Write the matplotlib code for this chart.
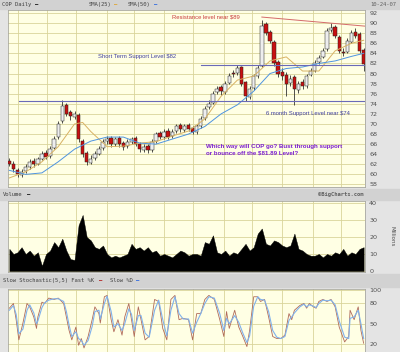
#COP daily chart - price, volume and slow stochastic
import numpy as np
import pandas as pd
import matplotlib
matplotlib.use("Agg")
import matplotlib.pyplot as plt
from matplotlib.patches import Rectangle

#Candles, one every 3 trading days (2006-10-24 .. 2007-10-24)
opens  = [62.6, 62.1, 60.8, 59.8, 60.7, 61.4, 62.7, 62.1, 63.1, 64.3,
          63.6, 65.3, 67.4, 70.6, 73.8, 72.4, 71.3, 71.8, 66.6, 64.3,
          62.3, 63.2, 64.1, 65.2, 66.6, 67.2, 66.1, 67.3, 66.2, 65.6,
          66.4, 67.2, 66.1, 64.9, 65.7, 64.9, 66.6, 68.2, 67.4, 68.7,
          67.6, 68.6, 69.8, 68.8, 69.8, 69.2, 68.4, 69.6, 71.2, 73.4,
          74.2, 76.4, 77.3, 76.4, 78.2, 80.2, 80.2, 81.2, 78.3, 75.3,
          77.2, 79.6, 81.5, 89.8, 88.3, 86.2, 82.3, 80.4, 79.7, 78.2,
          79.3, 76.8, 78.3, 77.6, 79.8, 80.6, 82.2, 83.2, 84.8, 88.7,
          89.2, 87.3, 84.2, 84.2, 86.2, 88.3, 87.8, 84.7]
closes = [62, 61, 60, 60.5, 61.5, 62.5, 62, 63, 64, 63.5,
          65, 67, 70, 73.5, 72, 71.5, 72, 67, 64, 62.5,
          63, 64, 65, 66.5, 67, 66, 67, 66, 65.5, 66.5,
          67, 66, 65, 65.5, 64.8, 66.5, 68, 67.5, 68.5, 67.5,
          68.5, 69.5, 69, 69.5, 69, 68.5, 69.5, 71, 73, 74,
          76, 77, 76.5, 78, 79.5, 80, 81, 78, 75.5, 77,
          79.5, 81, 89.5, 88, 86.5, 82, 80, 79.5, 78, 79,
          77, 78, 77.5, 79.5, 80.5, 82, 83, 84.5, 88.5, 89,
          87.5, 84.5, 84, 86.5, 88, 87.5, 84.5, 81.89]
highs  = [63.2, 62.6, 61.2, 61.0, 62.0, 63.0, 63.2, 63.5, 64.6, 64.8,
          65.6, 67.6, 70.6, 74.7, 74.2, 72.8, 72.6, 72.2, 67.0, 64.6,
          63.8, 64.6, 65.6, 67.0, 67.6, 67.6, 67.4, 67.6, 66.6, 67.0,
          67.5, 67.6, 66.5, 66.0, 66.0, 67.0, 68.5, 68.6, 69.0, 69.2,
          69.0, 70.0, 70.2, 70.0, 70.2, 69.6, 70.0, 71.6, 73.6, 74.8,
          76.6, 77.6, 77.8, 78.6, 80.2, 80.8, 81.6, 81.5, 78.6, 77.6,
          80.0, 81.6, 90.6, 90.3, 88.6, 86.6, 82.6, 81.0, 80.3, 79.8,
          79.8, 78.6, 79.0, 80.0, 81.0, 82.6, 83.6, 85.0, 89.0, 90.0,
          89.6, 87.6, 85.0, 87.0, 88.6, 89.0, 88.2, 85.0]
lows   = [61.6, 60.5, 59.5, 59.5, 60.3, 61.0, 61.5, 61.8, 62.8, 63.0,
          63.2, 65.0, 67.0, 70.2, 71.5, 70.8, 70.9, 66.5, 63.5, 61.8,
          62.0, 62.8, 63.8, 64.8, 66.0, 65.5, 65.6, 65.5, 64.8, 65.2,
          66.0, 65.6, 64.4, 64.4, 64.2, 64.5, 66.2, 67.0, 67.0, 67.0,
          67.2, 68.2, 68.5, 68.4, 68.6, 68.0, 68.0, 69.2, 70.8, 73.0,
          74.0, 76.0, 75.8, 76.0, 78.0, 79.4, 79.8, 77.5, 74.6, 75.0,
          76.8, 79.2, 81.2, 87.6, 86.0, 81.5, 79.3, 78.8, 75.6, 77.6,
          73.8, 76.2, 77.0, 77.2, 79.5, 80.3, 81.8, 83.0, 84.5, 88.2,
          87.0, 84.0, 83.4, 84.0, 86.0, 87.0, 84.0, 80.6]
volume = [13, 10, 11, 14, 10, 12, 9, 11, 3, 10,
          12, 17, 14, 19, 12, 7, 6.5, 27, 33, 20,
          18, 14, 13, 15, 10, 8, 9, 8, 9, 10,
          16, 13, 14, 12, 14, 11, 12, 9, 10, 9,
          8, 10, 12, 11, 9, 10, 10, 9, 17, 16,
          21, 11, 10, 12, 9, 11, 10, 13, 16, 12,
          14, 22, 25, 16, 15, 18, 17, 15, 14, 15,
          22, 13, 12, 10, 9, 9, 10, 8, 10, 9,
          11, 10, 13, 9, 11, 10, 13, 14]

#Moving averages, read every 4th candle
sma_idx = [0, 4, 8, 12, 16, 18, 20, 24, 28, 32, 36, 40, 44, 48, 52, 56,
           60, 64, 68, 72, 76, 80, 84, 87]
sma25 = [59.3, 60.5, 62.5, 65.5, 70.0, 70.3, 68.5, 65.5, 65.6, 66.2, 66.5,
         67.6, 68.6, 71.0, 75.5, 78.7, 79.5, 82.5, 83.3, 80.5, 80.5, 84.5,
         86.0, 86.6]
sma50 = [60.8, 60.0, 60.3, 62.5, 65.0, 65.8, 66.6, 67.4, 67.4, 66.2, 66.0,
         67.0, 68.0, 69.5, 72.0, 73.8, 76.5, 80.0, 81.0, 81.3, 82.0, 82.5,
         83.4, 84.0]

#Slow stochastic (trading day index)
stoch_day = [0, 3, 5, 7, 10, 13, 15, 18, 20, 21, 24, 26, 29, 33, 36, 40, 42,
             44, 46, 49, 51, 53, 55, 58, 61, 63, 66, 67, 70, 72, 75, 77, 80,
             83, 85, 88, 90, 92, 95, 97, 100, 103, 107, 110, 113, 116, 119,
             122, 125, 128, 132, 135, 138, 141, 144, 147, 151, 155, 158, 160,
             162, 166, 169, 172, 175, 177, 180, 183, 185, 188, 191, 194, 197,
             200, 203, 206, 208, 210, 214, 217, 219, 221, 224, 226, 228, 231,
             234, 237, 240, 243, 247, 250, 251, 254, 257, 259, 261]
fast_k = [73, 80, 56, 26, 51, 80, 75, 60, 43, 60, 82, 80, 88, 86, 88, 80, 60,
          40, 26, 45, 18, 28, 14, 31, 56, 75, 65, 51, 90, 92, 56, 38, 56, 33,
          60, 80, 56, 31, 75, 56, 26, 31, 86, 83, 43, 26, 86, 92, 56, 58, 56,
          26, 65, 65, 86, 92, 86, 56, 31, 68, 43, 70, 45, 31, 16, 40, 90, 90,
          83, 86, 60, 31, 28, 28, 33, 65, 56, 70, 77, 80, 73, 80, 75, 73, 83,
          86, 83, 86, 75, 45, 23, 31, 70, 56, 75, 40, 21]
slow_d = [70, 77, 64, 35, 42, 70, 78, 66, 50, 54, 74, 81, 85, 87, 87, 83, 68,
          48, 31, 38, 28, 25, 18, 25, 46, 68, 70, 57, 80, 91, 68, 45, 50, 40,
          50, 72, 64, 40, 62, 62, 36, 30, 70, 85, 56, 32, 70, 90, 65, 57, 57,
          36, 52, 65, 80, 90, 88, 65, 40, 58, 50, 62, 52, 36, 22, 32, 76, 90,
          86, 85, 68, 40, 30, 28, 31, 55, 60, 66, 75, 79, 75, 78, 76, 74, 80,
          85, 84, 85, 78, 54, 30, 28, 58, 60, 70, 50, 28]

#Drawn levels
resist_day, resist_val = [186, 262], [91.2, 89.4]
short_support, short_start = 81.7, 141
long_support, long_start = 74.5, 7

days = pd.bdate_range("2006-10-24", "2007-10-24")
month_lines = [i for i in range(1, len(days)) if days[i].month != days[i-1].month]

W, H = 400, 352
BG = "#e4e4e4"
STRIP = "#d2d2d2"
PANEL = "#ffffe4"
GRID = "#d9d49a"
TXT = "#505050"

def box(px0, py0, px1, py1):
    return [px0 / W, 1 - py1 / H, (px1 - px0) / W, (py1 - py0) / H]

fig = plt.figure(figsize=(W / 100, H / 100), dpi=100, facecolor=BG)
for y0, y1 in [(0, 9), (189, 200), (274, 287)]:
    fig.add_artist(Rectangle((0, 1 - y1 / H), 1, (y1 - y0) / H,
                             transform=fig.transFigure, color=STRIP, zorder=0))

def style(ax, ticks, ylim):
    ax.set_facecolor(PANEL)
    ax.set_xlim(-1, len(days))
    ax.set_ylim(*ylim)
    ax.set_xticks(month_lines)
    ax.set_xticklabels([])
    ax.set_yticks(ticks)
    ax.yaxis.tick_right()
    ax.tick_params(axis="both", length=0, labelsize=4.6, labelcolor=TXT, pad=3)
    ax.grid(True, color=GRID, lw=0.6)
    ax.set_axisbelow(True)
    for s in ax.spines.values():
        s.set_color("#a8a8a0")
        s.set_linewidth(0.6)

#Main price panel
ax = fig.add_axes(box(8, 10, 365, 187))
style(ax, np.arange(58, 93, 2), (57.5, 92.6))
o, c = np.array(opens), np.array(closes)
idx = np.arange(len(c)) * 3
up = c >= o
ax.vlines(idx, lows, highs, color="#222222", lw=0.55, zorder=2)
ax.bar(idx, np.maximum(np.abs(c - o), 0.15), bottom=np.minimum(o, c), width=2.5,
       color=np.where(up, "#eeeeee", "#c81010"), edgecolor="#222222",
       linewidth=0.35, zorder=3)
sidx = np.array(sma_idx) * 3
ax.plot(sidx, sma25, color="#d8b264", lw=0.7, zorder=4)
ax.plot(sidx, sma50, color="#4e94e0", lw=0.7, zorder=4)
ax.plot(resist_day, resist_val, color="#d46a6a", lw=0.7, zorder=5)
ax.plot([short_start, len(days)], [short_support] * 2, color="#6a6ab8", lw=0.8, zorder=5)
ax.plot([long_start, len(days)], [long_support] * 2, color="#6a6ab8", lw=0.8, zorder=5)
ax.text(120, 91.2, "Resistance level near $89", color="#c83c3c", fontsize=4.2,
        family="Liberation Sans", va="center")
ax.text(65, 83.3, "Short Term Support Level $82", color="#4040a0", fontsize=4.2,
        family="Liberation Sans", va="center")
ax.text(189, 72.1, "6 month Support Level near $74", color="#4040a0", fontsize=4.2,
        family="Liberation Sans", va="center")
ax.text(145, 64.8, "Which way will COP go? Bust through support\nor bounce off the $81.89 Level?",
        color="#7a1cd0", fontsize=4.4, family="Liberation Sans", weight="bold",
        va="center", linespacing=1.35)

#Volume panel
axv = fig.add_axes(box(8, 201, 365, 272))
style(axv, [0, 10, 20, 30, 40], (-0.6, 41.2))
axv.fill_between(idx, volume, color="black", lw=0.3, zorder=3)
fig.text(392 / W, 1 - 236 / H, "Millions", rotation=270, fontsize=4, color=TXT,
         ha="center", va="center")

#Stochastic panel
axs = fig.add_axes(box(8, 289, 365, 352))
style(axs, [20, 50, 80, 100], (8, 101.5))
axs.plot(stoch_day, fast_k, color="#b06a5a", lw=0.6, zorder=3)
axs.plot(stoch_day, slow_d, color="#80b2ec", lw=0.8, zorder=4)

#Strip labels
mono = dict(family="DejaVu Sans Mono", fontsize=4.0, color="#404040", va="center")
def label(px, py, s, **kw):
    d = dict(mono)
    d.update(kw)
    fig.text(px / W, 1 - py / H, s, **d)

label(2, 4.5, "COP Daily")
label(35, 4.5, "\u2014", color="black", weight="bold")
label(89, 4.5, "SMA(25)")
label(114, 4.5, "\u2014", color="#e0a020", weight="bold")
label(128, 4.5, "SMA(50)")
label(154, 4.5, "\u2014", color="#2060e0", weight="bold")
label(396, 4.5, "10-24-07", ha="right", color="#606060")
label(3, 194.5, "Volume")
label(27, 194.5, "\u2014", color="black", weight="bold")
label(364, 194.5, "\u00a9BigCharts.com", ha="right", color="#606060", weight="bold")
label(3, 280.5, "Slow Stochastic(5,5) Fast %K")
label(99, 280.5, "\u2014", color="#b01010", weight="bold")
label(110, 280.5, "Slow %D")
label(136, 280.5, "\u2014", color="#2060e0", weight="bold")

fig.savefig("out.png", dpi=100, facecolor=BG)
